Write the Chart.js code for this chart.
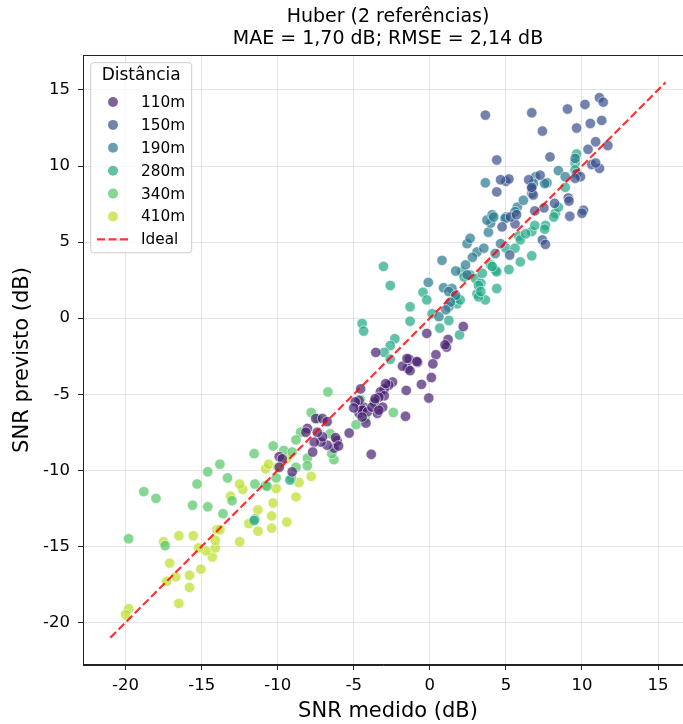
<!DOCTYPE html>
<html>
<head>
<meta charset="utf-8">
<script src="https://cdn.jsdelivr.net/npm/chart.js@4.4.1/dist/chart.umd.min.js"></script>
<style>
  html, body { margin: 0; padding: 0; background: #fff; overflow: hidden; }
  canvas { display: block; }
</style>
</head>
<body>
<canvas id="scatterChart" width="683" height="724"></canvas>
<script>
const distances = ["110m", "150m", "190m", "280m", "340m", "410m"];
const distanceColors = [
  "rgb(70, 32, 112)",
  "rgb(56, 78, 138)",
  "rgb(40, 120, 142)",
  "rgb(32, 166, 132)",
  "rgb(82, 196, 102)",
  "rgb(186, 222, 40)",
];

// [SNR medido, SNR previsto] per distance
const snr110 = [
  [2.2, -0.55], [1.2, -1.4], [1.1, -1.9], [1.0, -1.75], [-0.2, -1.0], [0.4, -2.4],
  [0.2, -3.0], [0.1, -3.9], [-0.55, -4.35], [-0.07, -5.25], [-1.55, -4.75], [-0.8, -2.9],
  [-1.35, -2.7], [-1.45, -3.3], [-1.8, -3.15], [-3.55, -2.25], [-1.6, -6.45], [-2.45, -4.2],
  [-2.7, -4.4], [-3.0, -4.65], [-3.25, -4.85], [-3.0, -5.1], [-3.35, -5.2], [-3.65, -5.5],
  [-3.1, -5.85], [-3.45, -6.25], [-4.35, -5.85], [-4.65, -6.25], [-4.55, -5.85], [-4.65, -5.4],
  [-4.55, -4.65], [-4.45, -6.05], [-4.2, -6.9], [-4.1, -6.15], [-3.8, -5.85], [-3.35, -6.05],
  [-3.6, -5.3], [-2.9, -4.3], [-4.45, -6.5], [-3.85, -8.95], [-5.3, -7.55], [-6.1, -8.05],
  [-6.2, -7.85], [-6.3, -8.55], [-6.0, -8.4], [-6.75, -8.35], [-7.15, -8.15], [-7.6, -8.15],
  [-7.7, -8.8], [-7.05, -7.8], [-7.4, -7.5], [-8.05, -7.25], [-8.15, -7.5], [-7.5, -6.6],
  [-7.05, -6.6], [-6.75, -6.8], [-9.9, -9.1], [-9.7, -9.25], [-9.05, -10.1], [-9.9, -9.8],
  [-1.3, -3.45], [-0.85, -2.85], [-1.5, -2.65], [-4.9, -5.5], [-5.0, -5.9],
];
const snr150 = [
  [3.65, 13.35], [6.7, 13.5], [9.05, 13.75], [10.2, 14.05], [11.15, 14.5], [11.4, 14.2],
  [7.4, 12.3], [9.65, 12.5], [10.55, 12.8], [11.3, 13.0], [10.9, 11.6], [11.7, 11.35],
  [10.4, 11.1], [7.9, 10.6], [4.4, 10.4], [10.65, 10.1], [11.15, 9.85], [10.9, 10.2],
  [6.5, 9.1], [7.25, 9.4], [6.7, 8.5], [6.8, 8.1], [4.4, 8.3], [5.0, 9.0], [5.2, 9.15],
  [9.65, 9.5], [9.9, 9.3], [9.55, 9.2], [9.1, 7.9], [9.15, 7.7], [9.2, 6.7], [10.1, 7.1],
  [10.0, 6.9], [8.2, 7.55], [7.5, 7.25], [6.9, 7.05], [7.4, 5.15], [7.6, 4.85], [5.25, 4.15],
  [5.6, 6.2], [5.3, 6.65], [4.75, 6.0], [5.7, 6.8], [4.65, 9.1], [6.7, 8.6],
];
const snr190 = [
  [3.65, 8.9], [-0.1, 2.35], [0.8, 3.8], [1.7, 3.1], [2.35, 3.5], [2.45, 2.85], [0.9, 2.0],
  [1.45, 1.95], [2.45, 4.9], [2.65, 5.25], [3.1, 4.35], [3.55, 4.6], [3.85, 5.65], [4.0, 6.25],
  [3.75, 6.45], [4.1, 6.8], [4.3, 4.25], [4.65, 4.9], [5.0, 6.65], [5.75, 7.3], [5.6, 7.0],
  [6.15, 7.75], [6.7, 8.2], [6.95, 9.3], [7.7, 8.9], [7.55, 8.85], [6.8, 8.85], [8.45, 9.7],
  [8.9, 9.3], [1.25, 1.75], [1.7, 1.5], [1.25, 0.75], [1.35, 1.05], [0.6, 0.1], [1.05, 0.55],
  [2.8, 4.0], [4.2, 6.65], [4.95, 6.55], [9.55, 10.5],
];
const snr280 = [
  [-3.05, 3.4], [-2.6, 2.15], [-1.3, 0.75], [-1.3, -0.2], [-0.45, 1.7], [-0.2, 1.2], [0.15, 0.3],
  [0.65, -0.65], [1.25, -0.15], [1.95, -1.1], [1.8, 0.95], [1.7, 1.3], [2.0, 1.2], [-2.3, -1.35],
  [-2.6, -1.8], [-3.0, -2.25], [-2.6, -2.7], [-4.45, -0.35], [-4.35, -0.85], [2.1, 3.05],
  [2.65, 2.85], [3.0, 2.6], [3.35, 2.3], [3.65, 1.2], [3.1, 1.6], [3.2, 1.4], [4.0, 3.5],
  [4.3, 3.15], [3.2, 2.15], [3.35, 1.75], [4.4, 1.95], [4.4, 3.05], [4.1, 3.4], [5.2, 3.2],
  [5.95, 3.7], [6.7, 4.1], [5.0, 4.6], [5.6, 4.6], [5.85, 5.4], [5.95, 5.15], [6.7, 5.7],
  [7.6, 6.1], [7.55, 5.85], [8.25, 6.9], [8.45, 7.3], [6.9, 6.1], [6.3, 5.55], [2.25, 2.7],
  [3.45, 2.95], [8.15, 6.65], [9.65, 10.8], [9.55, 10.2], [9.55, 9.75], [8.9, 8.6],
  [-9.2, -10.65], [-11.55, -13.3],
];
const snr340 = [
  [-19.8, -14.5], [-18.8, -11.4], [-18.0, -11.85], [-17.4, -14.95], [-15.6, -12.3], [-15.3, -10.9],
  [-14.6, -10.1], [-13.8, -9.6], [-13.3, -10.5], [-14.6, -12.4], [-13.6, -12.85], [-13.0, -12.0],
  [-11.5, -10.9], [-11.5, -13.2], [-11.55, -8.9], [-10.3, -8.4], [-10.8, -11.0], [-6.7, -4.85],
  [-7.8, -6.2], [-7.35, -6.6], [-8.5, -7.5], [-8.8, -8.0], [-9.6, -8.7], [-9.05, -8.8],
  [-8.05, -9.2], [-8.05, -9.7], [-6.3, -9.3], [-6.55, -7.6], [-6.45, -8.9], [-8.8, -9.8],
  [-10.1, -10.5], [-9.1, -10.5], [-10.7, -11.05], [-2.4, -6.2], [-4.85, -7.0], [-4.55, -5.35],
  [-3.55, -5.7], [-4.25, -6.6],
];
const snr410 = [
  [-19.8, -19.1], [-20.0, -19.5], [-16.5, -18.75], [-15.8, -17.7], [-15.8, -16.9], [-16.7, -17.0],
  [-17.3, -17.3], [-17.1, -16.1], [-15.05, -16.5], [-14.3, -15.7], [-14.7, -15.3], [-15.2, -15.1],
  [-14.1, -15.1], [-14.1, -14.6], [-14.0, -13.9], [-13.8, -13.9], [-16.5, -14.3], [-15.55, -14.3],
  [-17.5, -14.7], [-12.5, -14.7], [-11.9, -13.5], [-11.3, -14.0], [-11.3, -12.6], [-10.4, -13.0],
  [-10.4, -13.8], [-10.3, -12.15], [-13.1, -11.7], [-12.3, -11.25], [-12.5, -10.9], [-10.8, -9.9],
  [-10.6, -9.6], [-10.1, -11.2], [-9.4, -13.4], [-8.8, -11.75], [-8.6, -10.8], [-7.8, -10.4],
  [-9.4, -9.2], [-10.0, -9.8],
];
const seriesData = [snr110, snr150, snr190, snr280, snr340, snr410];

const titleLines = ["Huber (2 referências)", "MAE = 1,70 dB; RMSE = 2,14 dB"];
const idealRange = [-21, 15.5];
const xTicks = [-20, -15, -10, -5, 0, 5, 10, 15];
const yTicks = [-20, -15, -10, -5, 0, 5, 10, 15];
const xLimits = [-22.8, 17.3];
const yLimits = [-22.8, 17.3];

const FONT = "'DejaVu Sans', sans-serif";
const AXES_RIGHT = 693; // the original figure is cropped: axes end past the right edge

function withAlpha(rgb, a) {
  return rgb.replace("rgb(", "rgba(").replace(")", ", " + a + ")");
}

const datasets = seriesData.map((pts, i) => ({
  type: "scatter",
  label: distances[i],
  data: pts.map((p) => ({ x: p[0], y: p[1] })),
  backgroundColor: withAlpha(distanceColors[i], 0.7),
  borderColor: "rgba(255, 255, 255, 0.7)",
  borderWidth: 0.8,
  pointRadius: 5.2,
  pointHoverRadius: 5.2,
}));

datasets.push({
  type: "line",
  label: "Ideal",
  data: idealRange.map((v) => ({ x: v, y: v })),
  borderColor: "rgba(255, 0, 0, 0.8)",
  borderWidth: 2.2,
  borderDash: [8, 3.5],
  pointRadius: 0,
  fill: false,
  order: -1,
});

// stretch the x axis past the canvas edge
const stretchAxes = {
  id: "stretchAxes",
  afterLayout(chart) {
    const xs = chart.scales.x;
    xs.right = AXES_RIGHT;
    xs.width = xs.right - xs.left;
    xs.configure();
    chart.chartArea.right = AXES_RIGHT;
    chart.chartArea.width = AXES_RIGHT - chart.chartArea.left;
  },
};

// title over the axes, frame, and a matplotlib-style legend box
const decorations = {
  id: "decorations",
  afterDraw(chart) {
    const ctx = chart.ctx;
    const a = chart.chartArea;
    ctx.save();

    ctx.fillStyle = "#000";
    ctx.textAlign = "center";
    ctx.textBaseline = "middle";
    ctx.font = "19px " + FONT;
    const cx = (a.left + a.right) / 2;
    ctx.fillText(titleLines[0], cx, 17);
    ctx.fillText(titleLines[1], cx, 39);

    ctx.strokeStyle = "#222";
    ctx.lineWidth = 1;
    ctx.strokeRect(a.left + 0.5, a.top + 0.5, a.right - a.left - 1, a.bottom - a.top - 1);

    const x0 = a.left + 7.7, y0 = a.top + 7.7, w = 101, h = 190;
    ctx.beginPath();
    ctx.roundRect(x0, y0, w, h, 3);
    ctx.fillStyle = "rgba(255, 255, 255, 0.8)";
    ctx.fill();
    ctx.strokeStyle = "#cccccc";
    ctx.stroke();

    ctx.fillStyle = "#000";
    ctx.font = "17px " + FONT;
    ctx.fillText("Distância", x0 + 50.5, a.top + 21);

    ctx.textAlign = "left";
    ctx.font = "15.3px " + FONT;
    distances.forEach((d, i) => {
      const cy = a.top + 47 + i * 22.9;
      ctx.beginPath();
      ctx.arc(a.left + 30, cy, 5, 0, Math.PI * 2);
      ctx.fillStyle = withAlpha(distanceColors[i], 0.7);
      ctx.fill();
      ctx.fillStyle = "#000";
      ctx.fillText(d, a.left + 58, cy + 1);
    });

    const ly = a.top + 184.3;
    ctx.beginPath();
    ctx.setLineDash([8, 3.5]);
    ctx.strokeStyle = "rgba(255, 0, 0, 0.8)";
    ctx.lineWidth = 2.2;
    ctx.moveTo(a.left + 14, ly);
    ctx.lineTo(a.left + 46, ly);
    ctx.stroke();
    ctx.setLineDash([]);
    ctx.fillText("Ideal", a.left + 58, ly + 1);
    ctx.restore();
  },
};

const ctx = document.getElementById("scatterChart").getContext("2d");
new Chart(ctx, {
  data: { datasets: datasets },
  options: {
    responsive: false,
    animation: false,
    devicePixelRatio: 1,
    layout: { padding: { left: 0, right: 0, top: 55, bottom: 0 } },
    plugins: {
      legend: { display: false },
      tooltip: { enabled: false },
      title: { display: false },
    },
    scales: {
      x: {
        type: "linear",
        min: xLimits[0],
        max: xLimits[1],
        afterBuildTicks: (scale) => {
          scale.ticks = xTicks.map((v) => ({ value: v }));
        },
        afterFit: (scale) => {
          scale.height = 59;
          scale.paddingLeft = 0;
          scale.paddingRight = 0;
        },
        ticks: {
          color: "#000",
          font: { family: FONT, size: 16.5 },
          padding: 6,
          maxRotation: 0,
          callback: (v) => String(v),
        },
        grid: {
          color: "rgba(0, 0, 0, 0.1)",
          tickColor: "#222",
          tickLength: 5,
          lineWidth: 1,
        },
        border: { color: "#222", width: 1 },
        title: {
          display: true,
          text: "SNR medido (dB)",
          color: "#000",
          font: { family: FONT, size: 21 },
          padding: { top: 0, bottom: 0 },
        },
      },
      y: {
        type: "linear",
        min: yLimits[0],
        max: yLimits[1],
        afterBuildTicks: (scale) => {
          scale.ticks = yTicks.map((v) => ({ value: v }));
        },
        afterFit: (scale) => {
          scale.width = 83;
        },
        ticks: {
          color: "#000",
          font: { family: FONT, size: 16.5 },
          padding: 8,
          callback: (v) => String(v),
        },
        grid: {
          color: "rgba(0, 0, 0, 0.1)",
          tickColor: "#222",
          tickLength: 5,
          lineWidth: 1,
        },
        border: { color: "#222", width: 1 },
        title: {
          display: true,
          text: "SNR previsto (dB)",
          color: "#000",
          font: { family: FONT, size: 21 },
          padding: { top: 10, bottom: 0 },
        },
      },
    },
  },
  plugins: [stretchAxes, decorations],
});
</script>
</body>
</html>
